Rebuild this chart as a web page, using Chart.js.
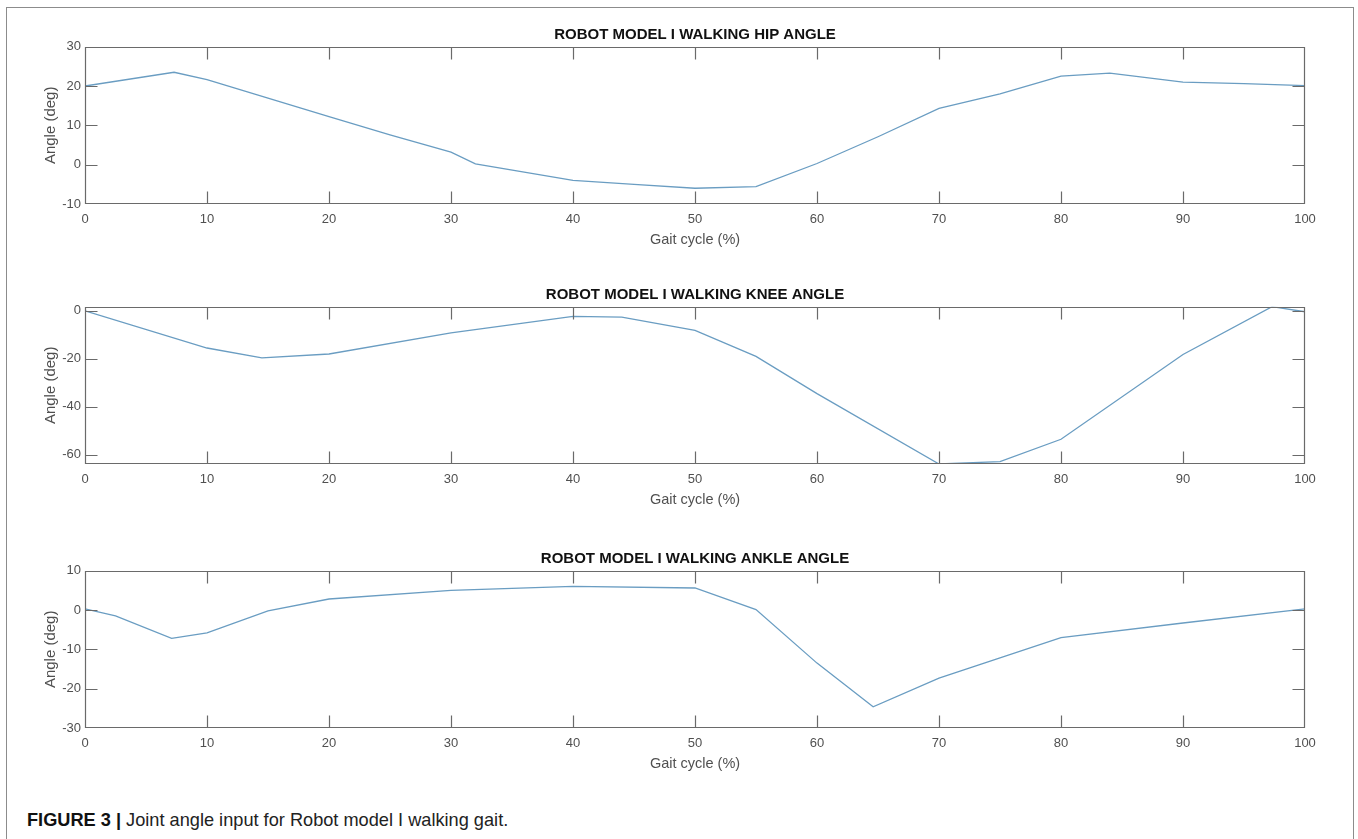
<!DOCTYPE html>
<html>
<head>
<meta charset="utf-8">
<script src="https://cdn.jsdelivr.net/npm/chart.js@4.4.0/dist/chart.umd.min.js"></script>
<style>
html,body{margin:0;padding:0;background:#fff;}
#fig{position:relative;width:1358px;height:839px;overflow:hidden;background:#fff;}
#frame{position:absolute;left:6px;top:7px;width:1348px;height:860px;border:1.5px solid #8c8c8c;box-sizing:border-box;}
.cv{position:absolute;left:0;width:1358px;height:256px;}
#caption{position:absolute;left:27px;top:808px;font-family:'Liberation Sans',Arial,Helvetica,sans-serif;font-size:18.2px;line-height:24px;color:#222;white-space:nowrap;}
#caption b{color:#111;}
</style>
</head>
<body>
<div id="fig">
  <div id="frame"></div>
  <div class="cv" style="top:0px"><canvas id="hip" width="1358" height="256"></canvas></div>
  <div class="cv" style="top:260px"><canvas id="knee" width="1358" height="256"></canvas></div>
  <div class="cv" style="top:524px"><canvas id="ankle" width="1358" height="256"></canvas></div>
  <div id="caption"><b>FIGURE 3 |</b> Joint angle input for Robot model I walking gait.</div>
</div>
<script>
// ---- data ----
const xTicks = [0, 10, 20, 30, 40, 50, 60, 70, 80, 90, 100];

const hipX = [0, 7.3, 10, 15, 20, 25, 30, 32, 40, 45, 50, 55, 60, 65, 70, 75, 80, 84, 90, 95, 100];
const hipY = [20.0, 23.5, 21.6, 16.9, 12.2, 7.6, 3.2, 0.2, -4.0, -5.0, -6.0, -5.6, 0.3, 7.1, 14.3, 18.0, 22.5, 23.3, 21.0, 20.6, 20.1];
const hipRange = [-10, 30];
const hipTicks = [-10, 0, 10, 20, 30];

const kneeX = [0, 10, 14.5, 20, 30, 40, 44, 50, 55, 60, 70, 75, 80, 90, 97.3, 100];
const kneeY = [0, -15.5, -19.6, -18.0, -9.2, -2.3, -2.6, -8.2, -19.0, -34.5, -63.8, -62.8, -53.5, -18.2, 1.7, -0.4];
const kneeRange = [-63.8, 1.7];
const kneeTicks = [-60, -40, -20, 0];

const ankleX = [0, 2.5, 7.1, 10, 15, 20, 30, 40, 50, 55, 60, 64.6, 70, 80, 90, 100];
const ankleY = [0.3, -1.5, -7.2, -5.8, -0.2, 2.8, 5.0, 6.0, 5.6, 0.1, -13.5, -24.6, -17.3, -7.0, -3.3, 0.3];
const ankleRange = [-30, 10];
const ankleTicks = [-30, -20, -10, 0, 10];

// ---- style ----
const FONT = "'Liberation Sans', Arial, Helvetica, sans-serif";
const LINE = '#6a9dc2';
const AXC = '#6a6a6a';
const TXT = '#505050';
const TL = 12;

const boxPlugin = {
  id: 'matlabBox',
  afterDraw(chart) {
    const {ctx, chartArea: a, scales} = chart;
    const x = scales.x, y = scales.y;
    const L = Math.round(a.left) + 0.5, R = Math.round(a.right) - 0.5;
    const T = Math.round(a.top) + 0.5, B = Math.round(a.bottom) - 0.5;
    const clamp = (v, lo, hi) => Math.min(Math.max(v, lo), hi);
    ctx.save();
    ctx.strokeStyle = AXC;
    ctx.lineWidth = 1.2;
    ctx.beginPath();
    ctx.rect(L, T, R - L, B - T);
    x.ticks.forEach(t => {
      const px = clamp(Math.round(x.getPixelForValue(t.value)) + 0.5, L, R);
      ctx.moveTo(px, B); ctx.lineTo(px, B - TL);
      ctx.moveTo(px, T); ctx.lineTo(px, T + TL);
    });
    y.ticks.forEach(t => {
      const py = clamp(Math.round(y.getPixelForValue(t.value)) + 0.5, T, B);
      ctx.moveTo(L, py); ctx.lineTo(L + TL, py);
      ctx.moveTo(R, py); ctx.lineTo(R - TL, py);
    });
    ctx.stroke();
    ctx.restore();
  }
};

function makeChart(id, title, xs, ys, range, yTicks) {
  const pts = xs.map((v, i) => ({x: v, y: ys[i]}));
  return new Chart(document.getElementById(id), {
    type: 'line',
    data: {datasets: [{data: pts, borderColor: LINE, borderWidth: 1.3, pointRadius: 0, tension: 0, fill: false}]},
    options: {
      responsive: false,
      animation: false,
      layout: {padding: {left: 0, right: 53, top: 0, bottom: 0}},
      plugins: {
        legend: {display: false},
        tooltip: {enabled: false},
        title: {
          display: true, fullSize: false, text: title, color: '#111',
          font: {family: FONT, size: 15, weight: 'bold', lineHeight: 1.2},
          padding: {top: 26, bottom: 2.7}
        }
      },
      scales: {
        x: {
          type: 'linear', position: 'bottom', min: 0, max: 100,
          afterBuildTicks: s => { s.ticks = xTicks.map(v => ({value: v})); },
          afterFit: s => { s.height = 52; },
          grid: {display: false, drawTicks: false, tickLength: 0},
          border: {display: false},
          ticks: {padding: 8, color: TXT, font: {family: FONT, size: 13}, maxRotation: 0, autoSkip: false},
          title: {display: true, text: 'Gait cycle (%)', color: TXT, font: {family: FONT, size: 14.5, lineHeight: 1.2}, padding: {top: 0, bottom: 7.3}}
        },
        y: {
          type: 'linear', position: 'left', min: range[0], max: range[1],
          afterBuildTicks: s => { s.ticks = yTicks.map(v => ({value: v})); },
          afterFit: s => { s.width = 85; },
          grid: {display: false, drawTicks: false, tickLength: 0},
          border: {display: false},
          ticks: {padding: 4, color: TXT, font: {family: FONT, size: 13}, autoSkip: false},
          title: {display: true, text: 'Angle (deg)', color: TXT, font: {family: FONT, size: 15, lineHeight: 1.2}, padding: {top: 41.4, bottom: 0}}
        }
      }
    },
    plugins: [boxPlugin]
  });
}

makeChart('hip', 'ROBOT MODEL I WALKING HIP ANGLE', hipX, hipY, hipRange, hipTicks);
makeChart('knee', 'ROBOT MODEL I WALKING KNEE ANGLE', kneeX, kneeY, kneeRange, kneeTicks);
makeChart('ankle', 'ROBOT MODEL I WALKING ANKLE ANGLE', ankleX, ankleY, ankleRange, ankleTicks);
</script>
</body>
</html>
